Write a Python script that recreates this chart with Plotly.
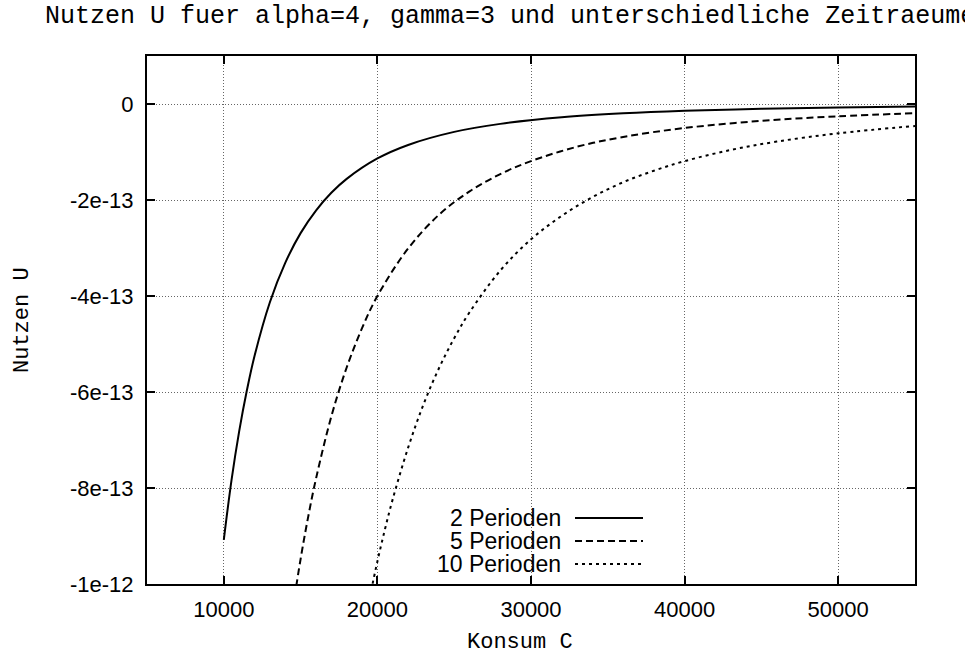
import plotly.graph_objects as go

# --- data ---
konsum_2 = [10000, 10500, 11000, 11500, 12000, 13000, 14000, 15000, 16000, 17000,
            18000, 20000, 22000, 25000, 28000, 32000, 36000, 40000, 45000, 50000, 55000]
nutzen_2 = [-9.08e-13, -7.84e-13, -6.82e-13, -5.97e-13, -5.25e-13, -4.13e-13, -3.31e-13,
            -2.69e-13, -2.22e-13, -1.85e-13, -1.56e-13, -1.135e-13, -0.853e-13, -0.581e-13,
            -0.414e-13, -0.277e-13, -0.195e-13, -0.142e-13, -0.0996e-13, -0.0726e-13, -0.0546e-13]

konsum_5 = [14500, 15000, 15500, 16000, 17000, 18000, 19000, 20000, 22000, 24000, 26000,
            28000, 30000, 33000, 36000, 40000, 45000, 50000, 55000]
nutzen_5 = [-10.50e-13, -9.48e-13, -8.59e-13, -7.81e-13, -6.51e-13, -5.49e-13, -4.67e-13,
            -4.00e-13, -3.01e-13, -2.31e-13, -1.82e-13, -1.46e-13, -1.19e-13, -0.89e-13,
            -0.686e-13, -0.50e-13, -0.351e-13, -0.256e-13, -0.192e-13]

konsum_10 = [19500, 20000, 20500, 21000, 22000, 23000, 24000, 25000, 26000, 28000, 30000,
             32000, 34000, 36000, 38000, 40000, 43000, 46000, 50000, 55000]
nutzen_10 = [-10.28e-13, -9.53e-13, -8.85e-13, -8.23e-13, -7.16e-13, -6.26e-13, -5.51e-13,
             -4.88e-13, -4.34e-13, -3.47e-13, -2.82e-13, -2.33e-13, -1.94e-13, -1.63e-13,
             -1.39e-13, -1.19e-13, -0.958e-13, -0.783e-13, -0.610e-13, -0.458e-13]

series_names = ["2 Perioden", "5 Perioden", "10 Perioden"]

x_tickvals = [10000, 20000, 30000, 40000, 50000]
x_ticktext = ["10000", "20000", "30000", "40000", "50000"]
y_tickvals = [0, -2e-13, -4e-13, -6e-13, -8e-13, -1e-12]
y_ticktext = ["0", "-2e-13", "-4e-13", "-6e-13", "-8e-13", "-1e-12"]

title_text = "Nutzen U fuer alpha=4, gamma=3 und unterschiedliche Zeitraeume"
x_title = "Konsum C"
y_title = "Nutzen U"

# --- figure ---
W, H = 965, 657
L, R, T, B = 147, 50, 56, 73
mono = "Liberation Mono, Courier New, monospace"
sans = "Liberation Sans, Arial, Helvetica, sans-serif"

dashes = ["solid", "7px,4px", "3px,4px"]
data = [(konsum_2, nutzen_2), (konsum_5, nutzen_5), (konsum_10, nutzen_10)]

fig = go.Figure()
for (xs, ys), name, dash in zip(data, series_names, dashes):
    fig.add_trace(go.Scatter(
        x=xs, y=ys, mode="lines", name=name,
        line=dict(color="black", width=2, dash=dash, shape="spline", smoothing=1.0),
        showlegend=False, hoverinfo="skip"))

axis_common = dict(
    showline=True, linecolor="black", linewidth=2, mirror="ticks",
    ticks="inside", ticklen=8, tickwidth=2, tickcolor="black",
    showgrid=True, gridcolor="#666666", gridwidth=1, griddash="1px,2px",
    zeroline=False, tickfont=dict(family=sans, size=22, color="black"),
)

fig.update_layout(
    width=W, height=H,
    margin=dict(l=L, r=R, t=T, b=B, pad=0),
    paper_bgcolor="white", plot_bgcolor="white",
    title=dict(text=title_text, x=45 / W, xanchor="left", xref="container",
               y=1 - 14 / H, yanchor="middle", yref="container",
               font=dict(family=mono, size=25, color="black")),
    xaxis=dict(range=[5000, 55000], tickvals=x_tickvals, ticktext=x_ticktext,
               ticklabelstandoff=5, **axis_common),
    yaxis=dict(range=[-1e-12, 1e-13], tickvals=y_tickvals, ticktext=y_ticktext,
               ticklabelstandoff=7, **axis_common),
    showlegend=False,
)

plot_w = W - L - R
plot_h = H - T - B

def px_x(p):
    return (p - L) / plot_w

def px_y(p):
    return 1 - (p - T) / plot_h

annotations = [
    dict(text=x_title, xref="paper", yref="paper", x=px_x(520), y=px_y(642),
         xanchor="center", yanchor="middle", showarrow=False,
         font=dict(family=mono, size=22, color="black")),
    dict(text=y_title, xref="paper", yref="paper", x=px_x(22), y=px_y(320),
         xanchor="center", yanchor="middle", showarrow=False, textangle=-90,
         font=dict(family=mono, size=22, color="black")),
]
shapes = []
legend_rows = [518, 541, 564]
for name, dash, yy in zip(series_names, dashes, legend_rows):
    annotations.append(dict(text=name, xref="paper", yref="paper", x=px_x(563), y=px_y(yy),
                            xanchor="right", yanchor="middle", showarrow=False,
                            font=dict(family=sans, size=23, color="black")))
    shapes.append(dict(type="line", xref="paper", yref="paper",
                       x0=px_x(575), x1=px_x(643), y0=px_y(yy), y1=px_y(yy),
                       line=dict(color="black", width=2, dash=dash)))

fig.update_layout(annotations=annotations, shapes=shapes)
fig.write_html("out.html")
